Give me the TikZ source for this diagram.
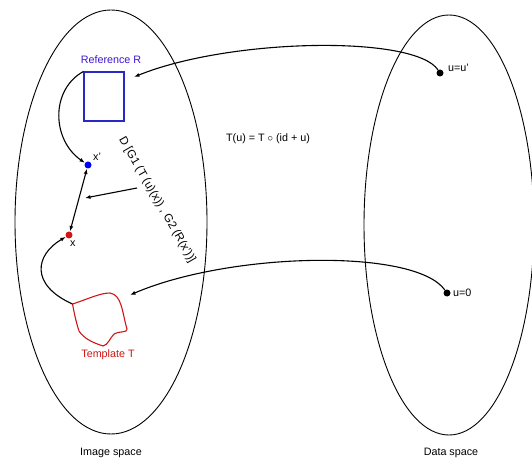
\documentclass[tikz,border=0pt]{standalone}
\usepackage{fontspec}
\setmainfont{Liberation Sans}
\usetikzlibrary{arrows.meta}
\definecolor{refblue}{RGB}{40,40,200}
\definecolor{reftext}{RGB}{60,20,210}
\definecolor{tplred}{RGB}{210,20,20}
\tikzset{
  lbl/.style={font=\fontsize{10.8}{12}\selectfont, inner sep=0pt},
  space/.style={line width=0.9bp},
  conn/.style={line width=1.1bp, -{Latex[length=5.5bp,width=4bp]}},
  dconn/.style={line width=1.1bp, {Latex[length=5.5bp,width=4bp]}-{Latex[length=5.5bp,width=4bp]}},
  dot/.style={circle, inner sep=0pt, minimum size=7bp},
}
\begin{document}
\begin{tikzpicture}[x=1bp,y=-1bp]
\useasboundingbox (0,0) rectangle (532,461);
% spaces
\draw[space] (111,222) ellipse [x radius=96bp, y radius=212bp];
\draw[space] (449,225) ellipse [x radius=85bp, y radius=210bp];
\node[lbl] (imgsp) at (111,453) {Image space};
\node[lbl] (datsp) at (451,453) {Data space};
% reference
\node[draw=refblue, line width=1.1bp, minimum width=40bp, minimum height=49bp, inner sep=0pt] (R) at (104,96.5) {};
\node[lbl, text=reftext] (Rl) at (111,60) {Reference R};
% template
\coordinate (tA) at (72.5,304);
\draw[tplred, line width=1.1bp] (tA) .. controls (88,299) and (100,293) .. (110,293)
  .. controls (122,295) and (122,312) .. (127,329)
  .. controls (128,333) and (118,331) .. (114,334)
  .. controls (110,338) and (108,345) .. (103,346)
  .. controls (94,343) and (84,339) .. (79,331)
  .. controls (76,322) and (74,312) .. (tA);
\node[lbl, text=tplred] (Tl) at (108,355) {Template T};
% points
\node[dot, fill=blue] (xp) at (88,165) {};
\node[lbl, anchor=south west] (xpl) at (93,161) {x'};
\node[dot, fill=tplred] (x) at (69,235) {};
\node[lbl, anchor=north west] (xl) at (70,241) {x};
\node[dot, fill=black] (uu) at (440,73) {};
\node[lbl, anchor=west] (uul) at (448,68) {u=u'};
\node[dot, fill=black] (u0) at (447,293) {};
\node[lbl, anchor=west] (u0l) at (453,293) {u=0};
% formula
\node[lbl] (Tu) at (268,139) {T(u) = T $\circ$ (id + u)};
% D label
\node[lbl, font=\fontsize{11.6}{13}\selectfont, rotate=-60] (D) at (157,200) {D [G1 (T (u)(x)) , G2 (R(x'))]};
% connectors
\draw[conn] (R.north west) .. controls (50,90) and (52,140) .. (xp);
\draw[dconn] (xp) -- (x);
\coordinate (ds) at (137,188);
\coordinate (de) at (85,198);
\draw[conn] (ds) -- (de);
\draw[conn] (tA) .. controls (30,285) and (35,255) .. (x);
\coordinate (Rin) at (134,77);
\draw[conn] (uu) .. controls (415,35) and (230,38) .. (Rin);
\coordinate (Tin) at (130,295);
\draw[conn] (u0) .. controls (415,248) and (230,252) .. (Tin);
\end{tikzpicture}
\end{document}
